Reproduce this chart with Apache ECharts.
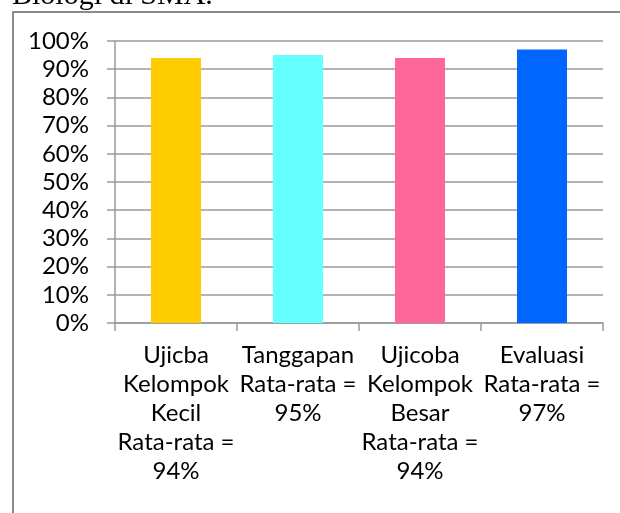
<!DOCTYPE html>
<html>
<head>
<meta charset="utf-8">
<script src="https://cdn.jsdelivr.net/npm/echarts@6/dist/echarts.min.js"></script>
<style>
  html, body { margin: 0; padding: 0; background: #fff; }
  #main { width: 620px; height: 513px; }
</style>
</head>
<body>
<div id="main"></div>
<script>
const kategori = [
  'Ujicba\nKelompok\nKecil\nRata-rata =\n94%',
  'Tanggapan\nRata-rata =\n95%',
  'Ujicoba\nKelompok\nBesar\nRata-rata =\n94%',
  'Evaluasi\nRata-rata =\n97%'
]
const nilai = [94, 95, 94, 97]
const warna = ['#FFCC00', '#66FFFF', '#FF6699', '#0066FF']
const judul = 'Biologi di SMA.'

const chart = echarts.init(document.getElementById('main'))
const abu = '#9a9a9a'

chart.setOption({
  animation: false,
  grid: {
    left: 115,
    right: 17,
    top: 41,
    bottom: 190,
    outerBoundsMode: 'none'
  },
  graphic: [
    {
      type: 'rect',
      shape: { x: 13, y: 12, width: 700, height: 600 },
      style: { fill: 'none', stroke: '#8a8a8a', lineWidth: 2 }
    },
    {
      // judul terpotong di atas, seperti di gambar asli
      type: 'text',
      x: 12,
      y: -4,
      style: {
        text: judul,
        font: '30px "Liberation Serif"',
        fill: '#000',
        verticalAlign: 'middle'
      }
    }
  ],
  xAxis: {
    type: 'category',
    data: kategori,
    axisLine: { show: true, lineStyle: { color: abu, width: 1.5 } },
    axisTick: { show: true, length: 8, lineStyle: { color: abu, width: 1.5 } },
    axisLabel: {
      interval: 0,
      margin: 18,
      color: '#000',
      fontFamily: 'Lato',
      fontSize: 24,
      lineHeight: 29,
      align: 'center'
    }
  },
  yAxis: {
    type: 'value',
    min: 0,
    max: 100,
    interval: 10,
    axisLine: { show: true, lineStyle: { color: abu, width: 1.5 } },
    axisTick: { show: true, length: 8, lineStyle: { color: abu, width: 1.5 } },
    splitLine: { show: true, lineStyle: { color: abu, width: 1.5 } },
    axisLabel: {
      margin: 26,
      color: '#000',
      fontFamily: 'Lato',
      fontSize: 24,
      formatter: '{value}%'
    }
  },
  series: [
    {
      type: 'bar',
      data: nilai,
      barWidth: '41%',
      itemStyle: {
        color: function (p) { return warna[p.dataIndex] }
      }
    }
  ]
})
</script>
</body>
</html>
